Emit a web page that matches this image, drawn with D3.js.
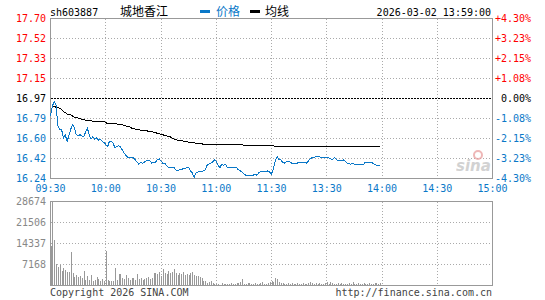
<!DOCTYPE html>
<html>
<head>
    <meta charset="utf-8" />
    <title>sh603887 城地香江</title>
    <style>
    body { margin: 0; background: #fff; }
    svg { display: block; }
    text { font-family: "DejaVu Sans Mono", monospace; font-size: 10px; }
    .cjk { font-family: "Noto Sans CJK SC", sans-serif; font-size: 12px; }
    .grid line { stroke: #aaa; stroke-dasharray: 1,2; shape-rendering: crispEdges; }
    </style>
</head>
<body>
    <div id="chart"></div>
    <script src="https://d3js.org/d3.v7.min.js"></script>
    <script>
        // minute index 0..240 (09:30-11:30, 13:00-15:00)
        var timeTicks = [0, 30, 60, 90, 120, 150, 180, 210, 240];
        var timeLabels = ["09:30", "10:00", "10:30", "11:00", "11:30", "13:30", "14:00", "14:30", "15:00"];
        var priceLabels = ["17.70", "17.52", "17.33", "17.15", "16.97", "16.79", "16.60", "16.42", "16.24"];
        var pctLabels = ["+4.30%", "+3.23%", "+2.15%", "+1.08%", "0.00%", "-1.08%", "-2.15%", "-3.23%", "-4.30%"];
        var volLabels = ["28674", "21506", "14337", "7168"];
        var prevClose = 16.97;

        var price = [
            16.81, 16.90, 16.94, 16.91, 16.72, 16.69, 16.69, 16.61, 16.64, 16.58,
            16.63, 16.69, 16.73, 16.70, 16.64, 16.63, 16.64, 16.63, 16.62, 16.66,
            16.70, 16.64, 16.60, 16.62, 16.60, 16.61, 16.59, 16.60, 16.58, 16.57,
            16.55, 16.53, 16.58, 16.58, 16.56, 16.52, 16.53, 16.54, 16.53, 16.50,
            16.47, 16.45, 16.43, 16.43, 16.43, 16.43, 16.41, 16.39, 16.37, 16.39,
            16.38, 16.39, 16.40, 16.41, 16.40, 16.38, 16.39, 16.39, 16.41, 16.42,
            16.40, 16.38, 16.38, 16.36, 16.34, 16.34, 16.34, 16.34, 16.32, 16.31,
            16.32, 16.32, 16.33, 16.33, 16.34, 16.34, 16.31, 16.29, 16.25, 16.29,
            16.30, 16.30, 16.30, 16.31, 16.32, 16.36, 16.37, 16.38, 16.39, 16.41,
            16.40, 16.36, 16.34, 16.37, 16.36, 16.37, 16.34, 16.34, 16.34, 16.34,
            16.34, 16.34, 16.32, 16.31, 16.30, 16.28, 16.27, 16.27, 16.27, 16.27,
            16.27, 16.28, 16.27, 16.29, 16.30, 16.30, 16.30, 16.30, 16.31, 16.30,
            16.28, 16.33, 16.40, 16.44, 16.41, 16.41, 16.39, 16.38, 16.39, 16.40,
            16.39, 16.38, 16.38, 16.38, 16.38, 16.39, 16.39, 16.39, 16.39, 16.38,
            16.40, 16.42, 16.43, 16.43, 16.44, 16.44, 16.44, 16.43, 16.43, 16.43,
            16.43, 16.43, 16.42, 16.41, 16.43, 16.42, 16.40, 16.40, 16.40, 16.41,
            16.40, 16.38, 16.38, 16.37, 16.38, 16.37, 16.37, 16.37, 16.37, 16.37,
            16.37, 16.39, 16.39, 16.39, 16.39, 16.38, 16.37, 16.36, 16.36, 16.36
        ];

        var avgPrice = [
            16.81, 16.90, 16.90, 16.89, 16.89, 16.88, 16.87, 16.85, 16.84, 16.83,
            16.82, 16.82, 16.81, 16.80, 16.80, 16.79, 16.79, 16.78, 16.78, 16.77,
            16.77, 16.77, 16.77, 16.76, 16.76, 16.76, 16.76, 16.76, 16.76, 16.76,
            16.75, 16.74, 16.74, 16.74, 16.74, 16.74, 16.74, 16.73, 16.73, 16.73,
            16.72, 16.72, 16.71, 16.71, 16.70, 16.70, 16.69, 16.69, 16.69, 16.68,
            16.68, 16.68, 16.68, 16.67, 16.67, 16.67, 16.66, 16.66, 16.65, 16.65,
            16.64, 16.64, 16.63, 16.63, 16.62, 16.62, 16.61, 16.60, 16.60, 16.59,
            16.59, 16.59, 16.58, 16.58, 16.58, 16.57, 16.57, 16.57, 16.57, 16.56,
            16.56, 16.56, 16.56, 16.55, 16.55, 16.55, 16.55, 16.55, 16.55, 16.55,
            16.55, 16.55, 16.55, 16.55, 16.55, 16.55, 16.55, 16.55, 16.55, 16.55,
            16.55, 16.55, 16.55, 16.55, 16.55, 16.54, 16.54, 16.54, 16.54, 16.54,
            16.54, 16.54, 16.54, 16.54, 16.54, 16.54, 16.54, 16.54, 16.54, 16.54,
            16.54, 16.54, 16.53, 16.53, 16.53, 16.53, 16.53, 16.53, 16.53, 16.53,
            16.53, 16.53, 16.53, 16.53, 16.53, 16.53, 16.53, 16.53, 16.53, 16.53,
            16.53, 16.53, 16.53, 16.53, 16.53, 16.53, 16.53, 16.53, 16.53, 16.53,
            16.53, 16.53, 16.53, 16.53, 16.53, 16.53, 16.53, 16.53, 16.53, 16.53,
            16.53, 16.53, 16.53, 16.53, 16.53, 16.53, 16.53, 16.53, 16.53, 16.53,
            16.53, 16.53, 16.53, 16.53, 16.53, 16.53, 16.53, 16.53, 16.53, 16.53
        ];

        var volume = [
            13400, 28674, 15700, 7170, 6370, 6830, 4890, 6030, 5230, 4550,
            4550, 11380, 4320, 2960, 3530, 2960, 3410, 2620, 4890, 1820,
            3190, 1820, 3530, 1480, 1820, 2850, 2050, 1480, 2050, 1600,
            11720, 1820, 1480, 1480, 1480, 6030, 1820, 3980, 3980, 2620,
            2280, 3530, 2620, 1820, 2620, 2620, 1820, 3980, 2050, 2620,
            1820, 2050, 2620, 2850, 2050, 2620, 4320, 4320, 3980, 4550,
            3410, 5690, 4320, 3980, 5010, 4210, 4550, 5690, 4100, 3750,
            4210, 3980, 4440, 3530, 3980, 3750, 4100, 4550, 3750, 3410,
            3300, 2850, 2400, 1480, 1590, 800, 1250, 1700, 800, 570,
            680, 450, 340, 910, 570, 450, 680, 570, 800, 570,
            680, 800, 910, 1250, 2280, 570, 680, 910, 800, 680,
            570, 1020, 680, 570, 800, 1130, 680, 570, 910, 1250,
            1590, 1250, 2390, 2160, 1250, 1020, 800, 680, 570, 910,
            680, 800, 570, 680, 1020, 570, 680, 800, 570, 680,
            910, 1130, 800, 680, 910, 570, 800, 680, 570, 1020,
            1250, 680, 1130, 800, 570, 680, 910, 570, 800, 680,
            570, 680, 800, 570, 1250, 680, 570, 800, 680, 570,
            910, 680, 570, 800, 680, 570, 1020, 800, 680, 910
        ];

        var W = 545, H = 300;
        var left = 50.5, right = 492.5;
        var pTop = 18.5, pBottom = 178.5;
        var vTop = 201.5, vBottom = 285.5;
        var blue = "#0a78c8", red = "#ff0000", gray = "#999";

        var svg = d3.select("#chart").append("svg")
            .attr("width", W).attr("height", H);

        var x = d3.scaleLinear().domain([0, 240]).range([left, right]);
        var y = d3.scaleLinear().domain([16.24, 17.70]).range([pBottom, pTop]);
        var row = d3.scaleLinear().domain([0, 8]).range([pTop, pBottom]);
        var yv = d3.scaleLinear().domain([0, 28674]).range([vBottom, vTop]);
        var vrow = d3.scaleLinear().domain([0, 4]).range([vTop, vBottom]);

        // header
        svg.append("text").attr("x", 50).attr("y", 15.5).text("sh603887");
        svg.append("text").attr("class", "cjk").attr("x", 120).attr("y", 16).text("城地香江");
        svg.append("rect").attr("x", 200).attr("y", 10).attr("width", 10).attr("height", 3).attr("fill", blue);
        svg.append("text").attr("class", "cjk").attr("x", 216).attr("y", 16).attr("fill", blue).text("价格");
        svg.append("rect").attr("x", 250).attr("y", 10).attr("width", 10).attr("height", 3).attr("fill", "#000");
        svg.append("text").attr("class", "cjk").attr("x", 265).attr("y", 16).text("均线");
        svg.append("text").attr("x", 491).attr("y", 15.5).attr("text-anchor", "end").text("2026-03-02 13:59:00");

        // price panel grid
        var g = svg.append("g").attr("class", "grid");
        g.selectAll(".h").data(d3.range(1, 8).filter(function(k) { return k !== 4; }))
            .enter().append("line")
            .attr("x1", left).attr("x2", right)
            .attr("y1", function(k) { return row(k); }).attr("y2", function(k) { return row(k); });
        g.selectAll(".v").data(timeTicks.slice(1, -1))
            .enter().append("line")
            .attr("y1", pTop).attr("y2", pBottom)
            .attr("x1", function(d) { return x(d); }).attr("x2", function(d) { return x(d); });

        // previous close line
        svg.append("line")
            .attr("x1", left).attr("x2", right)
            .attr("y1", row(4)).attr("y2", row(4))
            .attr("stroke", "#000").attr("stroke-dasharray", "2,1")
            .attr("shape-rendering", "crispEdges");

        svg.append("rect")
            .attr("x", left).attr("y", pTop)
            .attr("width", right - left).attr("height", pBottom - pTop)
            .attr("fill", "none").attr("stroke", gray).attr("shape-rendering", "crispEdges");

        // sina watermark
        var logo = svg.append("g").attr("opacity", 0.75);
        logo.append("circle").attr("cx", 478).attr("cy", 155).attr("r", 4)
            .attr("fill", "none").attr("stroke", "#e9a0a0").attr("stroke-width", 2);
        logo.append("text").attr("x", 456).attr("y", 171)
            .style("font-family", "Verdana, 'DejaVu Sans', sans-serif")
            .style("font-size", "15px").style("font-style", "italic").style("font-weight", "bold")
            .attr("fill", "#c4c4c4").text("sina");

        // price axes labels
        svg.selectAll(".pl").data(priceLabels).enter().append("text")
            .attr("x", 46).attr("y", function(d, k) { return row(k); })
            .attr("dy", "0.35em").attr("text-anchor", "end")
            .attr("fill", function(d, k) { return k < 4 ? red : (k === 4 ? "#000" : blue); })
            .text(function(d) { return d; });
        svg.selectAll(".pr").data(pctLabels).enter().append("text")
            .attr("x", 531).attr("y", function(d, k) { return row(k); })
            .attr("dy", "0.35em").attr("text-anchor", "end")
            .attr("fill", function(d, k) { return k < 4 ? red : (k === 4 ? "#000" : blue); })
            .text(function(d) { return d; });

        // time labels
        svg.selectAll(".tl").data(timeLabels).enter().append("text")
            .attr("x", function(d, k) { return x(timeTicks[k]); }).attr("y", 192)
            .attr("text-anchor", "middle").attr("fill", blue)
            .text(function(d) { return d; });

        // lines
        var line = d3.line()
            .x(function(d, i) { return x(i); })
            .y(function(d) { return y(d); });
        svg.append("path").datum(avgPrice)
            .attr("d", line).attr("fill", "none").attr("stroke", "#000")
            .attr("stroke-width", 1).attr("shape-rendering", "crispEdges");
        svg.append("path").datum(price)
            .attr("d", line).attr("fill", "none").attr("stroke", blue)
            .attr("stroke-width", 1).attr("shape-rendering", "crispEdges");

        // volume panel
        var vg = svg.append("g").attr("class", "grid");
        vg.selectAll(".h").data([1, 2, 3])
            .enter().append("line")
            .attr("x1", left).attr("x2", right)
            .attr("y1", function(k) { return vrow(k); }).attr("y2", function(k) { return vrow(k); });
        vg.selectAll(".v").data(timeTicks.slice(1, -1))
            .enter().append("line")
            .attr("y1", vTop).attr("y2", vBottom)
            .attr("x1", function(d) { return x(d); }).attr("x2", function(d) { return x(d); });

        svg.append("g").selectAll("rect").data(volume).enter().append("rect")
            .attr("x", function(d, i) { return Math.round(x(i)); })
            .attr("y", function(d) { return yv(d); })
            .attr("width", 1)
            .attr("height", function(d) { return vBottom - yv(d); })
            .attr("fill", gray).attr("shape-rendering", "crispEdges");

        svg.append("rect")
            .attr("x", left).attr("y", vTop)
            .attr("width", right - left).attr("height", vBottom - vTop)
            .attr("fill", "none").attr("stroke", gray).attr("shape-rendering", "crispEdges");

        svg.selectAll(".vl").data(volLabels).enter().append("text")
            .attr("x", 46).attr("y", function(d, k) { return vrow(k); })
            .attr("dy", "0.35em").attr("text-anchor", "end").attr("fill", "#888")
            .text(function(d) { return d; });

        // footer
        svg.append("text").attr("x", 50).attr("y", 296).attr("fill", "#444").text("Copyright 2026 SINA.COM");
        svg.append("text").attr("x", 492).attr("y", 296).attr("text-anchor", "end").attr("fill", "#444")
            .text("http://finance.sina.com.cn");
    </script>
</body>
</html>
